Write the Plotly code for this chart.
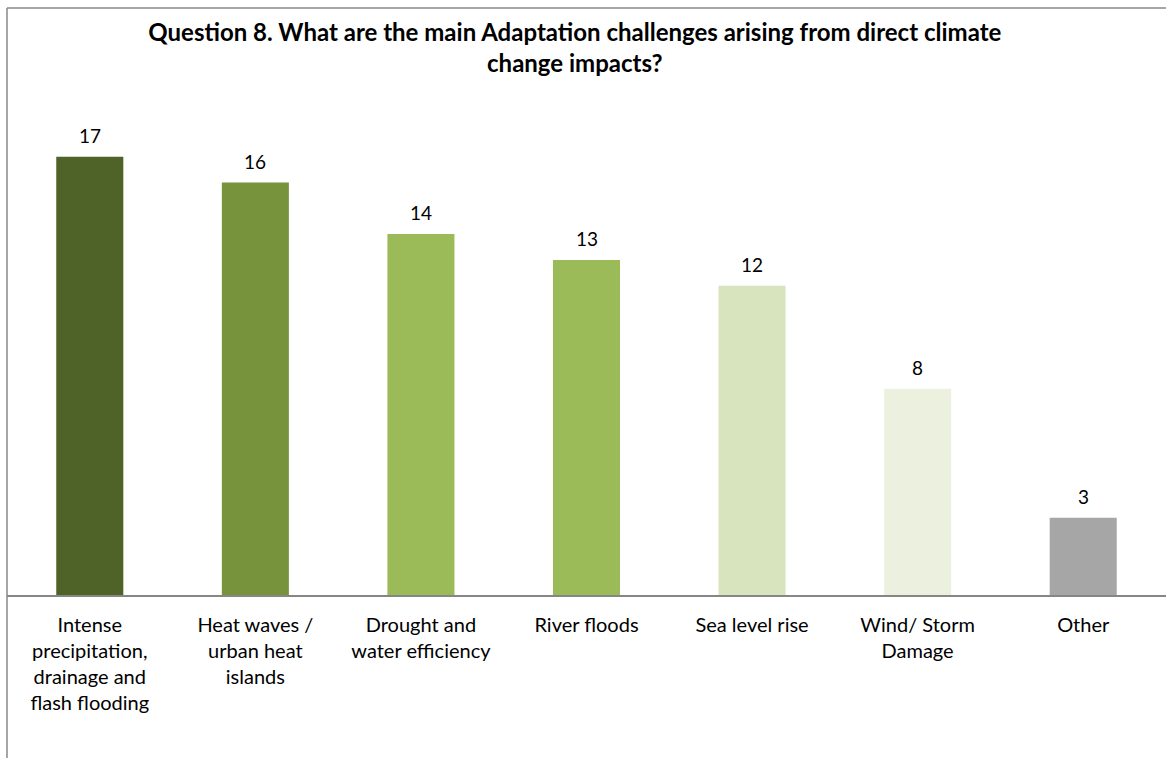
import plotly.graph_objects as go

categories = [
    "Intense<br>precipitation,<br>drainage and<br>flash flooding",
    "Heat waves /<br>urban heat<br>islands",
    "Drought and<br>water efficiency",
    "River floods",
    "Sea level rise",
    "Wind/ Storm<br>Damage",
    "Other",
]
responses = [17, 16, 14, 13, 12, 8, 3]
bar_colors = ["#4F6228", "#77933C", "#9BBB59", "#9BBB59", "#D7E4BD", "#EBF1DE", "#A6A6A6"]

title_text = ("Question 8. What are the main Adaptation challenges arising from direct climate"
              "<br>change impacts?")

FONT = "Lato, 'Open Sans', sans-serif"

fig = go.Figure(
    go.Bar(
        x=categories,
        y=responses,
        marker=dict(color=bar_colors, line=dict(width=0)),
        cliponaxis=False,
        hoverinfo="x+y",
    )
)

# value labels above each bar
for cat, val in zip(categories, responses):
    fig.add_annotation(
        x=cat, y=val, xref="x", yref="y",
        text=str(val), showarrow=False,
        yanchor="bottom", yshift=8,
        font=dict(family=FONT, size=19, color="#000000"),
    )

fig.update_layout(
    width=1166,
    height=758,
    margin=dict(l=7, r=0, t=131, b=163),
    paper_bgcolor="white",
    plot_bgcolor="white",
    bargap=0.595,
    showlegend=False,
    font=dict(family=FONT, size=20, color="#000000"),
    title=dict(
        text=title_text,
        x=0.493,
        xanchor="center",
        y=0.946,
        yanchor="top",
        font=dict(family=FONT, size=24, color="#000000", weight="bold"),
    ),
    xaxis=dict(
        showline=True,
        linecolor="#868686",
        linewidth=2,
        ticks="",
        ticklabelstandoff=11,
        tickfont=dict(family=FONT, size=20, color="#000000"),
        showgrid=False,
        fixedrange=True,
    ),
    yaxis=dict(
        range=[0, 18],
        visible=False,
        showgrid=False,
        zeroline=False,
        fixedrange=True,
    ),
)

# chart frame: top and left edges
fig.add_shape(type="line", xref="paper", yref="paper",
              x0=0, x1=1.01, y0=(595 - 8) / 464, y1=(595 - 8) / 464,
              line=dict(color="#888888", width=1.5))
fig.add_shape(type="line", xref="paper", yref="paper",
              x0=0, x1=0, y0=(595 - 8) / 464, y1=-0.4,
              line=dict(color="#888888", width=1.5))

fig.write_html("out.html")
